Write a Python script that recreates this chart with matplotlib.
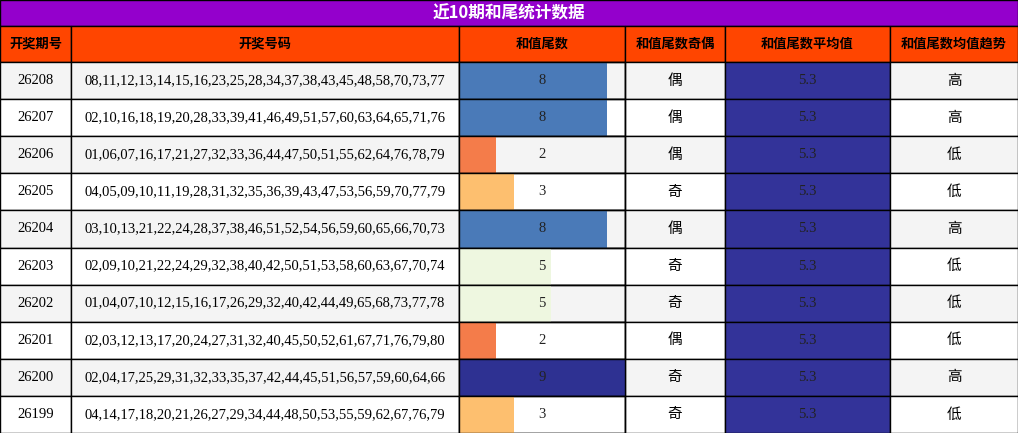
import matplotlib
matplotlib.use("Agg")
import matplotlib.pyplot as plt
from matplotlib.patches import Rectangle

title = "近10期和尾统计数据"
headers = ["开奖期号", "开奖号码", "和值尾数", "和值尾数奇偶", "和值尾数平均值", "和值尾数均值趋势"]
periods = ["26208","26207","26206","26205","26204","26203","26202","26201","26200","26199"]
numbers = [
"08,11,12,13,14,15,16,23,25,28,34,37,38,43,45,48,58,70,73,77",
"02,10,16,18,19,20,28,33,39,41,46,49,51,57,60,63,64,65,71,76",
"01,06,07,16,17,21,27,32,33,36,44,47,50,51,55,62,64,76,78,79",
"04,05,09,10,11,19,28,31,32,35,36,39,43,47,53,56,59,70,77,79",
"03,10,13,21,22,24,28,37,38,46,51,52,54,56,59,60,65,66,70,73",
"02,09,10,21,22,24,29,32,38,40,42,50,51,53,58,60,63,67,70,74",
"01,04,07,10,12,15,16,17,26,29,32,40,42,44,49,65,68,73,77,78",
"02,03,12,13,17,20,24,27,31,32,40,45,50,52,61,67,71,76,79,80",
"02,04,17,25,29,31,32,33,35,37,42,44,45,51,56,57,59,60,64,66",
"04,14,17,18,20,21,26,27,29,34,44,48,50,53,55,59,62,67,76,79",
]
tails = [8,8,2,3,8,5,5,2,9,3]
parity = ["偶","偶","偶","奇","偶","奇","奇","偶","奇","奇"]
avg = [5.3]*10
trend = ["高","高","低","低","高","低","低","低","高","低"]

W, H = 1018, 433
fig = plt.figure(figsize=(W/100, H/100), dpi=100)
ax = fig.add_axes([0,0,1,1])
ax.set_xlim(0, W); ax.set_ylim(H, 0); ax.axis("off")

cjk = ["Noto Sans CJK SC", "DejaVu Sans"]
serif = ["Liberation Serif", "DejaVu Serif"]
cols = [0, 71, 459, 625, 725, 890, 1018]
title_h, head_h = 26, 36
row_h = (H - title_h - head_h) / 10
lw = 1.0

ax.add_patch(Rectangle((0,0), W, title_h, fc="#9400cc", ec="black", lw=lw))
ax.text(W/2, title_h/2, title, color="white", fontsize=12, fontweight="bold", ha="center", va="center", family=cjk)
for i, h in enumerate(headers):
    x0, x1 = cols[i], cols[i+1]
    ax.add_patch(Rectangle((x0,title_h), x1-x0, head_h, fc="#ff4500", ec="black", lw=lw))
    ax.text((x0+x1)/2, title_h+head_h/2, h, fontsize=9.5, fontweight="bold", ha="center", va="center", family=cjk)

def tail_color(v):
    return {2:"#f47c4a",3:"#fdbf6f",5:"#eef7e0",8:"#4a7ab8",9:"#2e3192"}.get(v, "#4a7ab8")

maxv = max(tails)
for r in range(10):
    y = title_h + head_h + r*row_h
    bg = "#f4f4f4" if r % 2 == 0 else "white"
    for i in range(6):
        x0, x1 = cols[i], cols[i+1]
        fc = "#333399" if i == 4 else bg
        ax.add_patch(Rectangle((x0,y), x1-x0, row_h, fc=fc, ec="black", lw=lw))
    x0, x1 = cols[2], cols[3]
    ax.add_patch(Rectangle((x0,y), (x1-x0)*tails[r]/maxv, row_h, fc=tail_color(tails[r]), ec="none"))
    ax.add_patch(Rectangle((x0,y), x1-x0, row_h, fc="none", ec="black", lw=lw))
    cy = y + row_h/2
    ax.text((cols[0]+cols[1])/2, cy, periods[r], fontsize=10.5, ha="center", va="center", family=serif)
    ax.text((cols[1]+cols[2])/2, cy, numbers[r], fontsize=10.5, ha="center", va="center", family=serif)
    ax.text((cols[2]+cols[3])/2, cy, str(tails[r]), fontsize=10.5, ha="center", va="center", family=serif, color="#222222")
    ax.text((cols[3]+cols[4])/2, cy, parity[r], fontsize=10.5, ha="center", va="center", family=cjk)
    ax.text((cols[4]+cols[5])/2, cy, f"{avg[r]:.1f}", fontsize=10.5, ha="center", va="center", family=serif, color="#222222")
    ax.text((cols[5]+cols[6])/2, cy, trend[r], fontsize=10.5, ha="center", va="center", family=cjk)

fig.savefig("out.png", dpi=100)
